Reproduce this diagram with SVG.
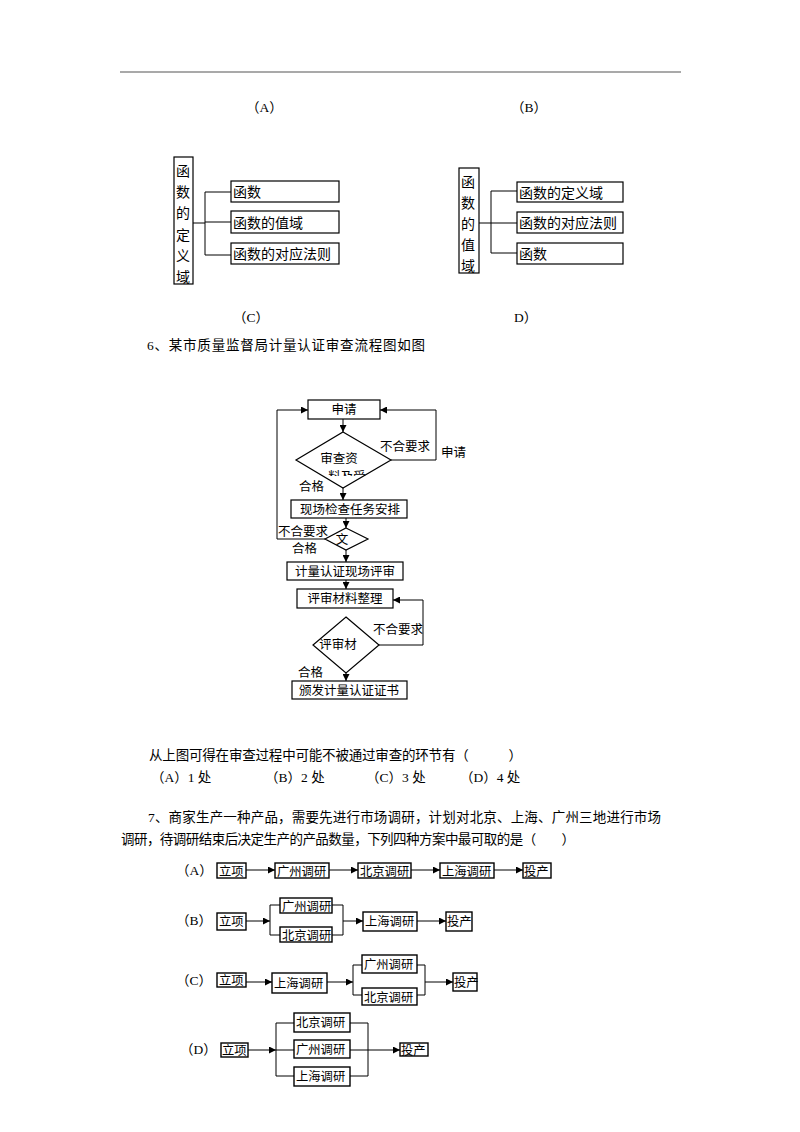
<svg xmlns="http://www.w3.org/2000/svg" width="800" height="1132" viewBox="0 0 800 1132">
<defs>
<style>
.t{font-family:"Liberation Serif","Noto Sans CJK SC",serif;font-size:13.5px;fill:#000}
.s{font-family:"Liberation Serif","Noto Sans CJK SC",serif;font-size:12.5px;fill:#000}
.h{font-family:"Noto Sans CJK SC",sans-serif;font-size:12.3px;fill:#000}
.k{font-family:"Noto Sans CJK SC",sans-serif;font-size:14px;fill:#000}
.b{fill:#fff;stroke:#000;stroke-width:1.2}
.l{fill:none;stroke:#000;stroke-width:1}
.bx{fill:#fff;stroke:#000;stroke-width:1.4}
</style>
<marker id="ah" viewBox="0 0 10 10" refX="10" refY="5" markerWidth="7" markerHeight="7" markerUnits="userSpaceOnUse" orient="auto">
<path d="M0,0 L10,5 L0,10 z" fill="#000"/>
</marker>
<clipPath id="clipD"><rect x="290" y="430" width="110" height="46"/></clipPath>
</defs>
<rect width="800" height="1132" fill="#fff"/>
<line x1="120" y1="72" x2="681" y2="72" stroke="#555" stroke-width="1.2"/>

<g id="labels-top">
<text class="t" x="246" y="112">（A）</text>
<text class="t" x="511" y="112">（B）</text>
<text class="t" x="233" y="322">（C）</text>
<text class="t" x="514" y="322">D）</text>
</g>

<!-- Option C tree -->
<g id="c-root">
<rect class="b" x="174" y="157" width="19" height="127"/>
<text class="k" x="176" y="176">函</text>
<text class="k" x="176" y="197">数</text>
<text class="k" x="176" y="218">的</text>
<text class="k" x="176" y="240">定</text>
<text class="k" x="176" y="261">义</text>
<text class="k" x="176" y="282">域</text>
</g>
<g id="c-n1"><rect class="b" x="231" y="181" width="108" height="21"/><text class="k" x="233" y="197">函数</text></g>
<g id="c-n2"><rect class="b" x="231" y="211" width="108" height="22"/><text class="k" x="233" y="228">函数的值域</text></g>
<g id="c-n3"><rect class="b" x="231" y="243" width="108" height="21"/><text class="k" x="233" y="259">函数的对应法则</text></g>

<!-- Option D tree -->
<g id="d-root">
<rect class="b" x="459" y="168" width="20" height="105"/>
<text class="k" x="461" y="187">函</text>
<text class="k" x="461" y="208">数</text>
<text class="k" x="461" y="229">的</text>
<text class="k" x="461" y="250">值</text>
<text class="k" x="461" y="271">域</text>
</g>
<g id="d-n1"><rect class="b" x="517" y="182" width="106" height="20"/><text class="k" x="519" y="198">函数的定义域</text></g>
<g id="d-n2"><rect class="b" x="517" y="212" width="106" height="21"/><text class="k" x="519" y="228">函数的对应法则</text></g>
<g id="d-n3"><rect class="b" x="517" y="243" width="106" height="21"/><text class="k" x="519" y="259">函数</text></g>

<g id="tree-connectors">
<path class="l" d="M193,223 H205 M205,192 V255 M205,192 H231 M205,222 H231 M205,255 H231" stroke-width="1.2"/>
<path class="l" d="M479,223 H491 M491,191 V253 M491,191 H517 M491,223 H517 M491,253 H517" stroke-width="1.2"/>
</g>

<text class="t" x="147" y="350" textLength="278" lengthAdjust="spacing">6、某市质量监督局计量认证审查流程图如图</text>

<!-- Flowchart -->
<g id="f-apply"><rect class="b" x="308" y="400" width="72" height="19"/><text class="s" x="344" y="414" text-anchor="middle">申请</text></g>
<g id="f-review">
<polygon class="b" points="343,432 391,460 343,488 296,460"/>
<text class="s" x="339" y="463" text-anchor="middle" font-size="13.5">审查资</text>
<text class="s" x="347" y="481" text-anchor="middle" font-size="13" clip-path="url(#clipD)">料及受</text>
</g>
<g id="f-site"><rect class="b" x="291" y="500" width="116" height="18"/><text class="s" x="350" y="514" text-anchor="middle" font-size="13">现场检查任务安排</text></g>
<g id="f-doc"><polygon class="b" points="346,528 368,539 346,550 325,539"/><text class="s" x="342" y="544" text-anchor="middle">文</text></g>
<g id="f-eval"><rect class="b" x="287" y="562" width="116" height="18"/><text class="s" x="345" y="576" text-anchor="middle" font-size="13">计量认证现场评审</text></g>
<g id="f-sort"><rect class="b" x="297" y="589" width="96" height="19"/><text class="s" x="345" y="603" text-anchor="middle" font-size="13">评审材料整理</text></g>
<g id="f-mat"><polygon class="b" points="346,617 379,645 346,673 313,645"/><text class="s" x="338" y="649" text-anchor="middle" font-size="13.5">评审材</text></g>
<g id="f-cert"><rect class="b" x="292" y="681" width="115" height="18"/><text class="s" x="349" y="695" text-anchor="middle" font-size="13">颁发计量认证证书</text></g>

<g id="f-connectors" class="l">
<line x1="343" y1="419" x2="343" y2="432" marker-end="url(#ah)"/>
<path d="M391,460 H436 V410 H380" marker-end="url(#ah)"/>
<line x1="343" y1="488" x2="343" y2="500" marker-end="url(#ah)"/>
<line x1="346" y1="518" x2="346" y2="528" marker-end="url(#ah)"/>
<path d="M325,539 H277 V410 H308" marker-end="url(#ah)"/>
<line x1="346" y1="550" x2="346" y2="562" marker-end="url(#ah)"/>
<line x1="346" y1="580" x2="346" y2="589" marker-end="url(#ah)"/>
<path d="M379,645 H423 V600 H393" marker-end="url(#ah)"/>
<line x1="346" y1="673" x2="346" y2="681" marker-end="url(#ah)"/>
</g>
<g id="f-labels">
<text class="s" x="380" y="451">不合要求</text>
<text class="s" x="441" y="457">申请</text>
<text class="s" x="299" y="491">合格</text>
<text class="s" x="278" y="536">不合要求</text>
<text class="s" x="292" y="553">合格</text>
<text class="s" x="373" y="634">不合要求</text>
<text class="s" x="298" y="677">合格</text>
</g>

<text class="t" x="149" y="760" textLength="373" lengthAdjust="spacing">从上图可得在审查过程中可能不被通过审查的环节有（　　　）</text>
<text class="t" x="151" y="782">（A）1 处</text>
<text class="t" x="265" y="782">（B）2 处</text>
<text class="t" x="366" y="782">（C）3 处</text>
<text class="t" x="460" y="782">（D）4 处</text>

<text class="t" x="148" y="822" textLength="513" lengthAdjust="spacing">7、商家生产一种产品，需要先进行市场调研，计划对北京、上海、广州三地进行市场</text>
<text class="t" x="121" y="844" textLength="454" lengthAdjust="spacing">调研，待调研结束后决定生产的产品数量，下列四种方案中最可取的是（　　）</text>

<!-- Q7 A -->
<text class="t" x="176" y="875">（A）</text>
<g id="a-start"><rect class="bx" x="217" y="863" width="29" height="15"/><text class="h" x="219" y="876">立项</text></g>
<g id="a-gz"><rect class="bx" x="275" y="863" width="54" height="15"/><text class="h" x="277" y="876">广州调研</text></g>
<g id="a-bj"><rect class="bx" x="358" y="863" width="53" height="15"/><text class="h" x="360" y="876">北京调研</text></g>
<g id="a-sh"><rect class="bx" x="440" y="863" width="54" height="15"/><text class="h" x="442" y="876">上海调研</text></g>
<g id="a-end"><rect class="bx" x="523" y="863" width="28" height="15"/><text class="h" x="524" y="876">投产</text></g>

<!-- Q7 B -->
<text class="t" x="176" y="925">（B）</text>
<g id="b-start"><rect class="bx" x="217" y="913" width="29" height="17"/><text class="h" x="219" y="926">立项</text></g>
<g id="b-gz"><rect class="bx" x="280" y="898" width="52" height="15"/><text class="h" x="282" y="911">广州调研</text></g>
<g id="b-bj"><rect class="bx" x="280" y="927" width="52" height="15"/><text class="h" x="282" y="940">北京调研</text></g>
<g id="b-sh"><rect class="bx" x="363" y="912" width="54" height="19"/><text class="h" x="365" y="926">上海调研</text></g>
<g id="b-end"><rect class="bx" x="446" y="912" width="26" height="19"/><text class="h" x="447" y="926">投产</text></g>

<!-- Q7 C -->
<text class="t" x="176" y="985">（C）</text>
<g id="c-start"><rect class="bx" x="217" y="973" width="29" height="14"/><text class="h" x="219" y="985">立项</text></g>
<g id="c-sh"><rect class="bx" x="272" y="973" width="55" height="20"/><text class="h" x="274" y="988">上海调研</text></g>
<g id="c-gz"><rect class="bx" x="362" y="955" width="55" height="18"/><text class="h" x="364" y="969">广州调研</text></g>
<g id="c-bj"><rect class="bx" x="362" y="988" width="55" height="17"/><text class="h" x="364" y="1002">北京调研</text></g>
<g id="c-end"><rect class="bx" x="453" y="973" width="24" height="18"/><text class="h" x="454" y="987">投产</text></g>

<!-- Q7 D -->
<text class="t" x="180" y="1054">（D）</text>
<g id="d-start"><rect class="bx" x="221" y="1043" width="27" height="14"/><text class="h" x="222" y="1055">立项</text></g>
<g id="d-bj"><rect class="bx" x="294" y="1013" width="56" height="19"/><text class="h" x="296" y="1027">北京调研</text></g>
<g id="d-gz"><rect class="bx" x="294" y="1040" width="56" height="18"/><text class="h" x="296" y="1054">广州调研</text></g>
<g id="d-sh"><rect class="bx" x="294" y="1067" width="56" height="19"/><text class="h" x="296" y="1081">上海调研</text></g>
<g id="d-end"><rect class="bx" x="400" y="1043" width="28" height="13"/><text class="h" x="401" y="1055">投产</text></g>

<g id="q7-connectors" class="l">
<line x1="246" y1="870" x2="275" y2="870" marker-end="url(#ah)"/>
<line x1="329" y1="870" x2="358" y2="870" marker-end="url(#ah)"/>
<line x1="411" y1="870" x2="440" y2="870" marker-end="url(#ah)"/>
<line x1="494" y1="870" x2="523" y2="870" marker-end="url(#ah)"/>

<line x1="246" y1="921" x2="270" y2="921" marker-end="url(#ah)"/>
<path d="M280,905 H270 V935 H280"/>
<path d="M332,905 H343 V935 H332"/>
<line x1="343" y1="921" x2="363" y2="921" marker-end="url(#ah)"/>
<line x1="417" y1="921" x2="446" y2="921" marker-end="url(#ah)"/>

<line x1="246" y1="982" x2="272" y2="982" marker-end="url(#ah)"/>
<line x1="327" y1="982" x2="353" y2="982" marker-end="url(#ah)"/>
<path d="M362,965 H353 V995 H362"/>
<path d="M417,965 H425 V995 H417"/>
<line x1="425" y1="982" x2="453" y2="982" marker-end="url(#ah)"/>

<line x1="248" y1="1050" x2="276" y2="1050" marker-end="url(#ah)"/>
<path d="M294,1023 H276 V1076 H294 M276,1050 H294"/>
<path d="M350,1023 H368 V1076 H350"/>
<line x1="350" y1="1050" x2="400" y2="1050" marker-end="url(#ah)"/>
</g>
</svg>
